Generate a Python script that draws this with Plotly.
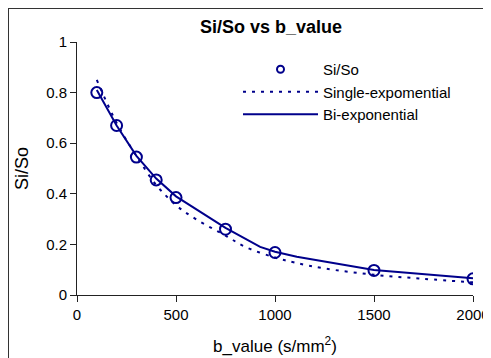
import plotly.graph_objects as go

b_meas = [100, 200, 300, 400, 500, 750, 1000, 1500, 2000]
si_so = [0.80, 0.67, 0.545, 0.455, 0.385, 0.26, 0.168, 0.097, 0.064]

b_single = [100, 200, 300, 400, 500, 600, 750, 850, 1000, 1100, 1250, 1500, 1750, 2000]
single_exp = [0.85, 0.68, 0.55, 0.435, 0.355, 0.30, 0.235, 0.19, 0.148, 0.128, 0.105, 0.08, 0.064, 0.05]

b_bi = [100, 200, 300, 400, 500, 750, 925, 1000, 1110, 1500, 2000]
bi_exp = [0.81, 0.67, 0.55, 0.46, 0.39, 0.265, 0.19, 0.171, 0.151, 0.099, 0.066]

x_ticks = [0, 500, 1000, 1500, 2000]
y_ticks = [0, 0.2, 0.4, 0.6, 0.8, 1]
y_ticktext = ["0", "0.2", "0.4", "0.6", "0.8", "1"]

navy = "#00008B"
fig = go.Figure()
fig.add_trace(go.Scatter(x=b_meas, y=si_so, mode="markers", name="Si/So", showlegend=False,
                         marker=dict(symbol="circle-open", size=11, color=navy, line=dict(width=2, color=navy))))
# legend entry (small marker as in the reference legend)
fig.add_trace(go.Scatter(x=[None], y=[None], mode="markers", name="Si/So",
                         marker=dict(symbol="circle-open", size=7, color=navy, line=dict(width=2, color=navy)),
                         legendgroup="a"))
fig.add_trace(go.Scatter(x=b_single, y=single_exp, mode="lines", name="Single-expomential",
                         line=dict(color=navy, width=2, dash="3px,6px", shape="spline"),
                         legendgroup="b"))
fig.add_trace(go.Scatter(x=b_bi, y=bi_exp, mode="lines", name="Bi-exponential",
                         line=dict(color=navy, width=2),
                         legendgroup="c"))

font = "Liberation Sans, Arial, sans-serif"
# page has an 8px body margin; figure coordinates = page coordinates - 8
W, H = 483, 350
ml, mr, mt, mb = 69, 18, 34, 63
pw, ph = W - ml - mr, H - mt - mb

fig.update_layout(
    width=W, height=H,
    margin=dict(l=ml, r=mr, t=mt, b=mb, autoexpand=False),
    paper_bgcolor="white", plot_bgcolor="white",
    font=dict(family=font, color="black", size=14),
    title=dict(text="<b>Si/So vs b_value</b>", x=263 / W, xanchor="center",
               y=1 - 19 / H, yanchor="middle", font=dict(size=18, family=font)),
    xaxis=dict(range=[0, 2000], tickvals=x_ticks, showgrid=False, automargin=False,
               zeroline=False, showline=True, linecolor="#222222", linewidth=1,
               ticks="outside", ticklen=6, tickcolor="#222222", tickfont=dict(size=15),
               title=dict(text="b_value (s/mm<sup>2</sup>)", font=dict(size=17), standoff=18)),
    yaxis=dict(range=[0, 1], tickvals=y_ticks, ticktext=y_ticktext, automargin=False,
               showgrid=False, zeroline=False, showline=True, linecolor="#222222", linewidth=1,
               ticks="outside", ticklen=6, tickcolor="#222222", tickfont=dict(size=15),
               title=dict(text="Si/So", font=dict(size=18), standoff=12)),
    legend=dict(x=(230 - ml) / pw, y=1 - (45 - mt) / ph, xanchor="left", yanchor="top",
                bgcolor="rgba(0,0,0,0)", font=dict(size=15), itemwidth=75,
                tracegroupgap=0),
    showlegend=True,
)
fig.add_shape(type="rect", xref="paper", yref="paper",
              x0=(0 - ml) / pw, x1=(W + 20 - ml) / pw,
              y0=-(H + 20 - mt - ph) / ph, y1=1 + (mt - 0) / ph,
              line=dict(color="#333333", width=2), layer="above")
fig.write_html("out.html")
